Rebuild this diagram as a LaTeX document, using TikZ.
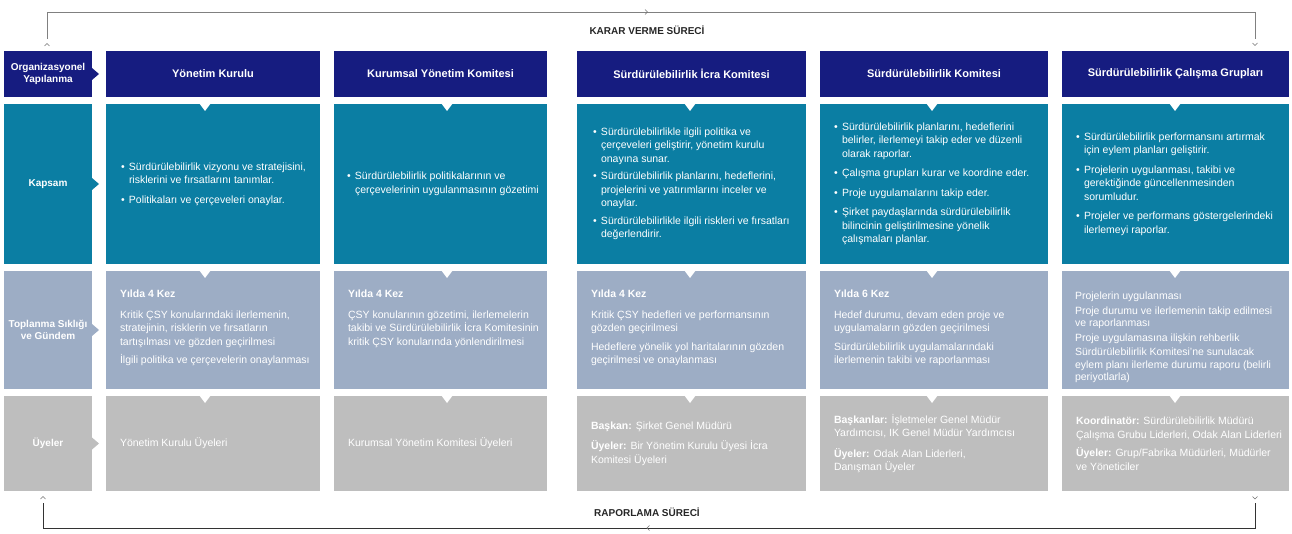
\documentclass[tikz,border=0pt]{standalone}
\usepackage{fontspec}
\setmainfont{Liberation Sans}
\usetikzlibrary{positioning}

\definecolor{navy}{RGB}{22,28,128}
\definecolor{kapsamblue}{RGB}{11,126,163}
\definecolor{gundemgray}{RGB}{157,173,197}
\definecolor{uyegray}{RGB}{190,190,190}
\newcommand{\itm}{\makebox[8pt][l]{\textbullet}}
\newcommand{\cnt}{\hspace*{8pt}}

\begin{document}
\begin{tikzpicture}[x=1pt,y=-1pt,
	box/.style={anchor=north west,inner sep=0pt,outer sep=0pt,text=white},
	head/.style={box,fill=navy,minimum height=46pt,font=\fontsize{11}{13}\selectfont\bfseries},
	side/.style={box,minimum width=88pt,align=center,font=\fontsize{10}{11.5}\selectfont\bfseries},
	txt/.style={inner sep=0pt,outer sep=0pt,text=white,align=left,font=\fontsize{10.5}{13.5}\selectfont},
	proc/.style={font=\fontsize{10}{12}\selectfont\bfseries,text=black!85},
	chev/.style={draw=black!55,line width=0.6pt}]
	\useasboundingbox (0,0) rectangle (1292,534);

	% left column
	\node[side,fill=navy,minimum height=46pt] (lo) at (4,51) {Organizasyonel\\Yapılanma};
	\node[side,fill=kapsamblue,minimum height=160pt] (lk) at (4,104) {Kapsam};
	\node[side,fill=gundemgray,minimum height=118pt] (lt) at (4,271) {Toplanma Sıklığı\\ve Gündem};
	\node[side,fill=uyegray,minimum height=95pt] (lu) at (4,396) {Üyeler};
	\fill[navy] (lo.east) ++(0,-6) -- ++(7,6) -- ++(-7,6) -- cycle;
	\fill[kapsamblue] (lk.east) ++(0,-6) -- ++(7,6) -- ++(-7,6) -- cycle;
	\fill[gundemgray] (lt.east) ++(0,-6) -- ++(7,6) -- ++(-7,6) -- cycle;
	\fill[uyegray] (lu.east) ++(0,-6) -- ++(7,6) -- ++(-7,6) -- cycle;

	% headers
	\node[head,minimum width=214pt] (h1) at (106,51) {Yönetim Kurulu};
	\node[head,minimum width=213pt] (h2) at (334,51) {Kurumsal Yönetim Komitesi};
	\node[head,minimum width=229pt] (h3) at (577,51) {Sürdürülebilirlik İcra Komitesi};
	\node[head,minimum width=228pt] (h4) at (820,51) {Sürdürülebilirlik Komitesi};
	\node[head,minimum width=227pt] (h5) at (1062,51) {Sürdürülebilirlik Çalışma Grupları};

	% kapsam
	\node[box,fill=kapsamblue,minimum width=214pt,minimum height=160pt] (k1) at (106,104) {};
	\node[box,fill=kapsamblue,minimum width=213pt,minimum height=160pt] (k2) at (334,104) {};
	\node[box,fill=kapsamblue,minimum width=229pt,minimum height=160pt] (k3) at (577,104) {};
	\node[box,fill=kapsamblue,minimum width=228pt,minimum height=160pt] (k4) at (820,104) {};
	\node[box,fill=kapsamblue,minimum width=227pt,minimum height=160pt] (k5) at (1062,104) {};
	\node[txt,right=15pt of k1.west] (k1t) {\itm Sürdürülebilirlik vizyonu ve stratejisini,\\\cnt risklerini ve fırsatlarını tanımlar.\\[6pt]\itm Politikaları ve çerçeveleri onaylar.};
	\node[txt,right=13pt of k2.west] (k2t) {\itm Sürdürülebilirlik politikalarının ve\\\cnt çerçevelerinin uygulanmasının gözetimi};
	\node[txt,right=16pt of k3.west] (k3t) {\itm Sürdürülebilirlikle ilgili politika ve\\\cnt çerçeveleri geliştirir, yönetim kurulu\\\cnt onayına sunar.\\[4pt]\itm Sürdürülebilirlik planlarını, hedeflerini,\\\cnt projelerini ve yatırımlarını inceler ve\\\cnt onaylar.\\[4pt]\itm Sürdürülebilirlikle ilgili riskleri ve fırsatları\\\cnt değerlendirir.};
	\node[txt,right=14pt of k4.west] (k4t) {\itm Sürdürülebilirlik planlarını, hedeflerini\\\cnt belirler, ilerlemeyi takip eder ve düzenli\\\cnt olarak raporlar.\\[6pt]\itm Çalışma grupları kurar ve koordine eder.\\[6pt]\itm Proje uygulamalarını takip eder.\\[6pt]\itm Şirket paydaşlarında sürdürülebilirlik\\\cnt bilincinin geliştirilmesine yönelik\\\cnt çalışmaları planlar.};
	\node[txt,right=14pt of k5.west] (k5t) {\itm Sürdürülebilirlik performansını artırmak\\\cnt için eylem planları geliştirir.\\[6pt]\itm Projelerin uygulanması, takibi ve\\\cnt gerektiğinde güncellenmesinden\\\cnt sorumludur.\\[6pt]\itm Projeler ve performans göstergelerindeki\\\cnt ilerlemeyi raporlar.};

	% toplanma
	\node[box,fill=gundemgray,minimum width=214pt,minimum height=118pt] (t1) at (106,271) {};
	\node[box,fill=gundemgray,minimum width=213pt,minimum height=118pt] (t2) at (334,271) {};
	\node[box,fill=gundemgray,minimum width=229pt,minimum height=118pt] (t3) at (577,271) {};
	\node[box,fill=gundemgray,minimum width=228pt,minimum height=118pt] (t4) at (820,271) {};
	\node[box,fill=gundemgray,minimum width=227pt,minimum height=118pt] (t5) at (1062,271) {};
	\node[txt,below right=19pt and 14pt of t1.north west] (t1t) {\textbf{Yılda 4 Kez}\\[7pt]Kritik ÇSY konularındaki ilerlemenin,\\stratejinin, risklerin ve fırsatların\\tartışılması ve gözden geçirilmesi\\[5pt]İlgili politika ve çerçevelerin onaylanması};
	\node[txt,below right=19pt and 14pt of t2.north west] (t2t) {\textbf{Yılda 4 Kez}\\[7pt]ÇSY konularının gözetimi, ilerlemelerin\\takibi ve Sürdürülebilirlik İcra Komitesinin\\kritik ÇSY konularında yönlendirilmesi};
	\node[txt,below right=19pt and 14pt of t3.north west] (t3t) {\textbf{Yılda 4 Kez}\\[7pt]Kritik ÇSY hedefleri ve performansının\\gözden geçirilmesi\\[5pt]Hedeflere yönelik yol haritalarının gözden\\geçirilmesi ve onaylanması};
	\node[txt,below right=19pt and 14pt of t4.north west] (t4t) {\textbf{Yılda 6 Kez}\\[7pt]Hedef durumu, devam eden proje ve\\uygulamaların gözden geçirilmesi\\[5pt]Sürdürülebilirlik uygulamalarındaki\\ilerlemenin takibi ve raporlanması};
	\node[txt,below right=21pt and 13pt of t5.north west,font=\fontsize{10.5}{12.5}\selectfont] (t5t) {Projelerin uygulanması\\[2pt]Proje durumu ve ilerlemenin takip edilmesi\\ve raporlanması\\[2pt]Proje uygulamasına ilişkin rehberlik\\[2pt]Sürdürülebilirlik Komitesi’ne sunulacak\\eylem planı ilerleme durumu raporu (belirli\\periyotlarla)};

	% uyeler
	\node[box,fill=uyegray,minimum width=214pt,minimum height=95pt] (u1) at (106,396) {};
	\node[box,fill=uyegray,minimum width=213pt,minimum height=95pt] (u2) at (334,396) {};
	\node[box,fill=uyegray,minimum width=229pt,minimum height=95pt] (u3) at (577,396) {};
	\node[box,fill=uyegray,minimum width=228pt,minimum height=95pt] (u4) at (820,396) {};
	\node[box,fill=uyegray,minimum width=227pt,minimum height=95pt] (u5) at (1062,396) {};
	\node[txt,right=14pt of u1.west] (u1t) {Yönetim Kurulu Üyeleri};
	\node[txt,right=14pt of u2.west] (u2t) {Kurumsal Yönetim Komitesi Üyeleri};
	\node[txt,right=14pt of u3.west] (u3t) {\textbf{Başkan:} Şirket Genel Müdürü\\[7pt]\textbf{Üyeler:} Bir Yönetim Kurulu Üyesi İcra\\Komitesi Üyeleri};
	\node[txt,right=14pt of u4.west] (u4t) {\textbf{Başkanlar:} İşletmeler Genel Müdür\\Yardımcısı, IK Genel Müdür Yardımcısı\\[7pt]\textbf{Üyeler:} Odak Alan Liderleri,\\Danışman Üyeler};
	\node[txt,right=14pt of u5.west] (u5t) {\textbf{Koordinatör:} Sürdürülebilirlik Müdürü\\Çalışma Grubu Liderleri, Odak Alan Liderleri\\[5pt]\textbf{Üyeler:} Grup/Fabrika Müdürleri, Müdürler\\ve Yöneticiler};

	% notches
	\foreach \nx in {205,447,690,932,1175}
		\foreach \ny in {104,271,396}
			\fill[white] (\nx-6,\ny-1) -- (\nx+6,\ny-1) -- (\nx,\ny+7) -- cycle;

	% karar verme
	\coordinate (karar1) at (47,39);
	\coordinate (karar2) at (1255,39);
	\draw[black!50,line width=0.8pt] (karar1) -- ++(0,-27) -| (karar2);
	\draw[chev] (44.5,46) -- (47,43.5) -- (49.5,46);
	\draw[chev] (1252.5,43) -- (1255,45.5) -- (1257.5,43);
	\draw[chev] (645,9.5) -- (647.5,12) -- (645,14.5);
	\node[proc] (karar) at (647,30) {KARAR VERME SÜRECİ};

	% raporlama
	\coordinate (rapor1) at (43,503);
	\coordinate (rapor2) at (1255,503);
	\draw[black!80,line width=0.8pt] (rapor1) -- ++(0,25) -| (rapor2);
	\draw[chev] (40.5,499) -- (43,496.5) -- (45.5,499);
	\draw[chev] (1252.5,496.5) -- (1255,499) -- (1257.5,496.5);
	\draw[chev] (649.5,525.5) -- (647,528) -- (649.5,530.5);
	\node[proc] (rapor) at (647,512) {RAPORLAMA SÜRECİ};
\end{tikzpicture}
\end{document}
